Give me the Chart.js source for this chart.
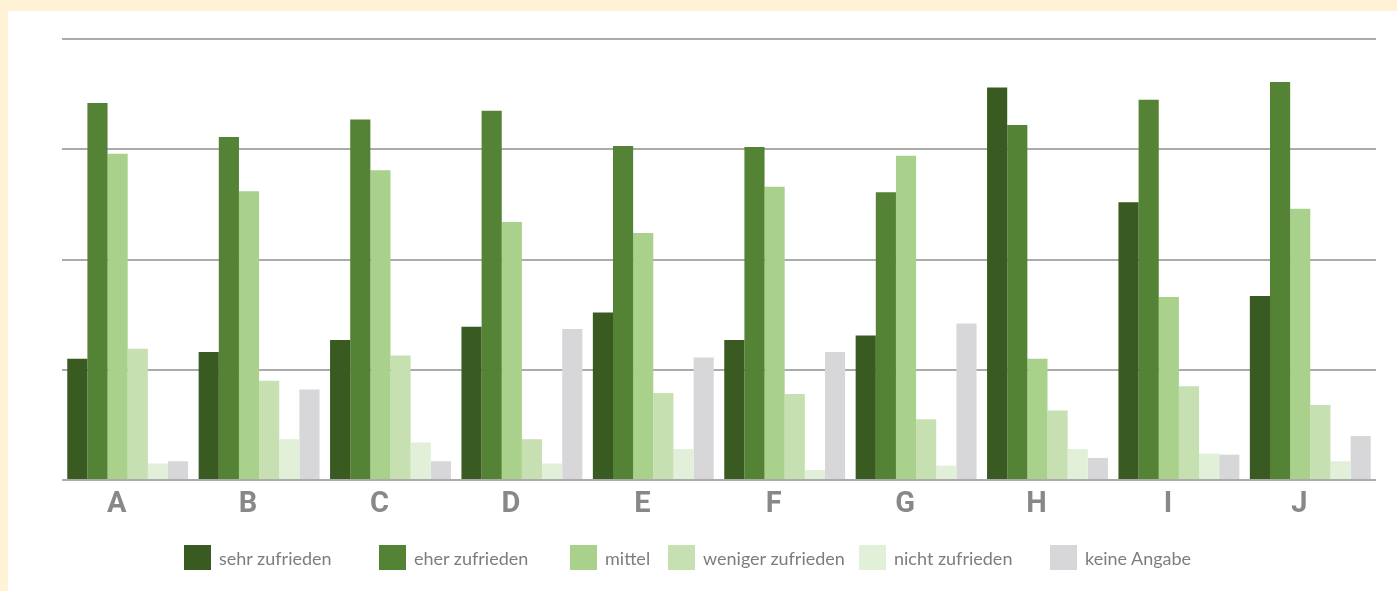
<!DOCTYPE html>
<html lang="de">
<head>
<meta charset="utf-8">
<title>Zufriedenheit</title>
<script src="https://cdn.jsdelivr.net/npm/chart.js@4"></script>
<style>
  html, body { margin: 0; padding: 0; }
  body { width: 1397px; height: 591px; background: #fff2d5; position: relative; overflow: hidden; }
  #panel { position: absolute; left: 8px; top: 11px; right: 0; bottom: 0; background: #ffffff; }
  #wrap { position: absolute; left: 0; top: 0; width: 1397px; height: 591px; }
  #legend { position: absolute; left: 0; top: 0; width: 1397px; height: 591px; pointer-events: none; }
  .item { position: absolute; top: 545px; height: 25px; display: flex; align-items: center;
          font-family: Lato, "Open Sans", sans-serif; font-size: 18px; color: #7d7d7d; white-space: nowrap; }
  .box { width: 27px; height: 25px; margin-right: 8px; }
</style>
</head>
<body>
<div id="panel"></div>
<div id="wrap"><canvas id="chart" width="1397" height="591"></canvas></div>
<div id="legend"></div>
<script>
const categories = ['A', 'B', 'C', 'D', 'E', 'F', 'G', 'H', 'I', 'J'];
const seriesNames = ['sehr zufrieden', 'eher zufrieden', 'mittel', 'weniger zufrieden', 'nicht zufrieden', 'keine Angabe'];

// Anteile in Prozent je Kategorie
const sehrZufrieden    = [11.0, 11.6, 12.7, 13.9, 15.2, 12.7, 13.1, 35.6, 25.2, 16.7];
const eherZufrieden    = [34.2, 31.1, 32.7, 33.5, 30.3, 30.2, 26.1, 32.2, 34.5, 36.1];
const mittel           = [29.6, 26.2, 28.1, 23.4, 22.4, 26.6, 29.4, 11.0, 16.6, 24.6];
const wenigerZufrieden = [11.9,  9.0, 11.3,  3.7,  7.9,  7.8,  5.5,  6.3,  8.5,  6.8];
const nichtZufrieden   = [ 1.5,  3.7,  3.4,  1.5,  2.8,  0.9,  1.3,  2.8,  2.4,  1.7];
const keineAngabe      = [ 1.7,  8.2,  1.7, 13.7, 11.1, 11.6, 14.2,  2.0,  2.3,  4.0];

const yTicks = [0, 10, 20, 30, 40];

const values = [sehrZufrieden, eherZufrieden, mittel, wenigerZufrieden, nichtZufrieden, keineAngabe];
const colors = ['#395a20', '#548335', '#a9d18c', '#c6e0b1', '#e2efd9', '#d7d7d9'];
const legendLeft = [184, 379, 570, 668, 859, 1050];

const datasets = seriesNames.map((name, i) => ({
  label: name,
  data: values[i],
  backgroundColor: colors[i],
  borderWidth: 0,
  categoryPercentage: 0.92,
  barPercentage: 1.0
}));

new Chart(document.getElementById('chart'), {
  type: 'bar',
  data: { labels: categories, datasets: datasets },
  options: {
    responsive: false,
    animation: false,
    layout: { padding: { left: 62, right: 21, top: 39, bottom: 0 } },
    plugins: { legend: { display: false }, tooltip: { enabled: false } },
    scales: {
      x: {
        grid: { display: false, drawTicks: false },
        border: { display: false },
        ticks: {
          color: '#888888',
          padding: 7,
          labelOffset: -11,
          font: { family: "Roboto, sans-serif", size: 29, weight: 'bold' }
        },
        afterFit: s => { s.height = 111; }
      },
      y: {
        min: 0,
        max: 40,
        afterBuildTicks: s => { s.ticks = yTicks.map(v => ({ value: v })); },
        grid: { color: '#ababab', lineWidth: 2, drawTicks: false },
        border: { display: false },
        ticks: { display: false },
        afterFit: s => { s.width = 0; }
      }
    }
  }
});

// Legende unter dem Diagramm
const legend = document.getElementById('legend');
seriesNames.forEach((name, i) => {
  const item = document.createElement('div');
  item.className = 'item';
  item.style.left = legendLeft[i] + 'px';
  item.innerHTML = `<span class="box" style="background:${colors[i]}"></span><span>${name}</span>`;
  legend.appendChild(item);
});
</script>
</body>
</html>
